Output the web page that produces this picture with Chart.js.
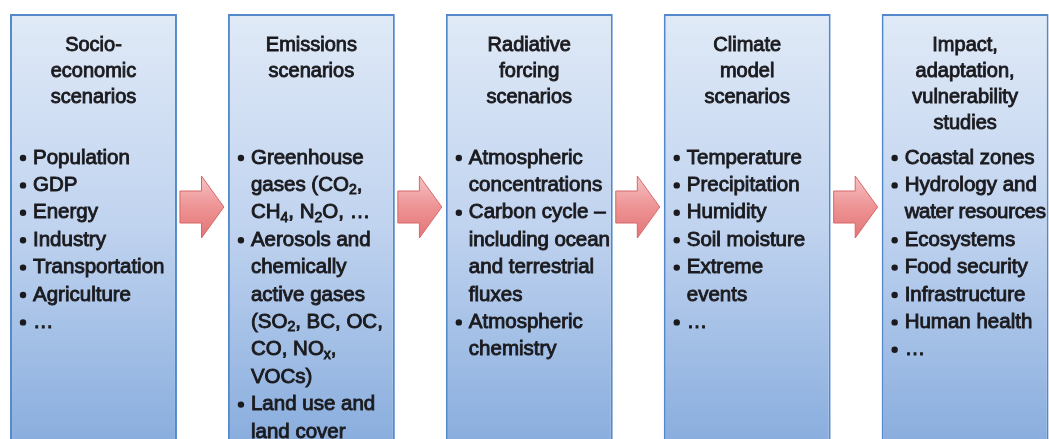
<!DOCTYPE html>
<html>
<head>
<meta charset="utf-8">
<script src="https://cdn.jsdelivr.net/npm/chart.js@4/dist/chart.umd.min.js"></script>
<style>
  html, body { margin: 0; padding: 0; background: #ffffff; }
  #wrap { width: 1049px; height: 439px; position: relative; }
</style>
</head>
<body>
<div id="wrap"><canvas id="chart"></canvas></div>
<script>
"use strict";

// stages of the chain, left to right
const stagePos = [0, 1, 2, 3, 4];

const stageTitles = [
  ['Socio-', 'economic', 'scenarios'],
  ['Emissions', 'scenarios'],
  ['Radiative', 'forcing', 'scenarios'],
  ['Climate', 'model', 'scenarios'],
  ['Impact,', 'adaptation,', 'vulnerability', 'studies']
];

// each item is a list of lines; _x marks a subscript character
const stageItems = [
  [['Population'], ['GDP'], ['Energy'], ['Industry'], ['Transportation'], ['Agriculture'], ['…']],
  [['Greenhouse', 'gases (CO_2,', 'CH_4, N_2O, …'],
   ['Aerosols and', 'chemically', 'active gases', '(SO_2, BC, OC,', 'CO, NO_x,', 'VOCs)'],
   ['Land use and', 'land cover']],
  [['Atmospheric', 'concentrations'],
   ['Carbon cycle –', 'including ocean', 'and terrestrial', 'fluxes'],
   ['Atmospheric', 'chemistry']],
  [['Temperature'], ['Precipitation'], ['Humidity'], ['Soil moisture'], ['Extreme', 'events'], ['…']],
  [['Coastal zones'], ['Hydrology and', 'water resources'], ['Ecosystems'], ['Food security'],
   ['Infrastructure'], ['Human health'], ['…']]
];

// box extent on the vertical (row) scale, top of page = 0
const boxTop = [14, 14, 14, 14, 14];
const boxBottom = [470, 470, 470, 470, 470];
const arrowRow = 207;

const titleFirstRow = 45;
const titleStep = 26;
const itemFirstRow = 158;
const itemStep = 27.4;

const textFont = '"Liberation Sans", Arial, sans-serif';
const textColor = '#1b1b1f';

function splitSub(text) {
  let parts = [];
  const re = /_(\w)/g;
  let last = 0;
  let m;
  while ((m = re.exec(text)) !== null) {
    if (m.index > last) parts.push({ t: text.slice(last, m.index), sub: false });
    parts.push({ t: m[1], sub: true });
    last = re.lastIndex;
  }
  if (last < text.length) parts.push({ t: text.slice(last), sub: false });
  return parts;
}

// draws one body line, fitting it inside maxWidth by tightening the tracking
function drawText(ctx, text, x, y, maxWidth) {
  const parts = splitSub(text);
  let total = 0, chars = 0;
  for (const p of parts) {
    ctx.font = (p.sub ? '14px ' : '20.5px ') + textFont;
    total += ctx.measureText(p.t).width;
    chars += p.t.length;
  }
  let spacing = 0;
  if (total > maxWidth) spacing = Math.max(-1.2, (maxWidth - total) / chars);
  ctx.letterSpacing = spacing + 'px';
  let cx = x;
  for (const p of parts) {
    ctx.font = (p.sub ? '14px ' : '20.5px ') + textFont;
    const yy = p.sub ? y + 5 : y;
    ctx.fillText(p.t, cx, yy);
    ctx.strokeText(p.t, cx, yy);
    cx += ctx.measureText(p.t).width;
  }
  ctx.letterSpacing = '0px';
}

const boxGradient = function(context) {
  const chart = context.chart;
  const area = chart.chartArea;
  if (!area) return '#c3d6f0';
  const y = chart.scales.y;
  const g = chart.ctx.createLinearGradient(0, y.getPixelForValue(boxTop[0]), 0, area.bottom);
  g.addColorStop(0, '#e0eaf7');
  g.addColorStop(0.5, '#c0d3ef');
  g.addColorStop(1, '#8aaede');
  return g;
};

const arrowsPlugin = {
  id: 'arrows',
  afterDatasetsDraw(chart) {
    const ctx = chart.ctx;
    const bars = chart.getDatasetMeta(0).data;
    const yc = chart.scales.y.getPixelForValue(arrowRow);
    ctx.save();
    for (let i = 0; i < bars.length - 1; i++) {
      const a = bars[i], b = bars[i + 1];
      const x0 = a.x + a.width / 2 + 3;
      const x2 = b.x - b.width / 2 - 4;
      const x1 = x0 + (x2 - x0) * 0.49;
      const g = ctx.createLinearGradient(0, yc - 31, 0, yc + 31);
      g.addColorStop(0, '#f6c2c3');
      g.addColorStop(0.5, '#ee9394');
      g.addColorStop(1, '#e27576');
      ctx.beginPath();
      ctx.moveTo(x0, yc - 16);
      ctx.lineTo(x1, yc - 16);
      ctx.lineTo(x1, yc - 31);
      ctx.lineTo(x2, yc);
      ctx.lineTo(x1, yc + 31);
      ctx.lineTo(x1, yc + 16);
      ctx.lineTo(x0, yc + 16);
      ctx.closePath();
      ctx.fillStyle = g;
      ctx.fill();
      ctx.strokeStyle = '#d8676a';
      ctx.lineWidth = 1;
      ctx.stroke();
    }
    ctx.restore();
  }
};

const labelsPlugin = {
  id: 'boxLabels',
  afterDatasetsDraw(chart) {
    const ctx = chart.ctx;
    const bars = chart.getDatasetMeta(0).data;
    const y = chart.scales.y;
    ctx.save();
    ctx.fillStyle = textColor;
    ctx.strokeStyle = textColor;
    ctx.lineWidth = 0.9;
    ctx.textBaseline = 'middle';
    bars.forEach(function(bar, i) {
      const left = bar.x - bar.width / 2;
      ctx.textAlign = 'center';
      ctx.font = '20px ' + textFont;
      stageTitles[i].forEach(function(line, k) {
        const yy = y.getPixelForValue(titleFirstRow + k * titleStep);
        ctx.fillText(line, bar.x, yy);
        ctx.strokeText(line, bar.x, yy);
      });
      ctx.textAlign = 'left';
      let row = 0;
      for (const item of stageItems[i]) {
        const yb = y.getPixelForValue(itemFirstRow + row * itemStep);
        ctx.beginPath();
        ctx.arc(left + 13, yb, 3.2, 0, Math.PI * 2);
        ctx.fill();
        for (const line of item) {
          drawText(ctx, line, left + 23, y.getPixelForValue(itemFirstRow + row * itemStep), bar.width - 26);
          row++;
        }
      }
    });
    ctx.restore();
  }
};

const config = {
  type: 'bar',
  data: {
    datasets: [{
      data: stagePos.map((p, i) => ({ x: p, y: [boxBottom[i], boxTop[i]] })),
      backgroundColor: boxGradient,
      borderColor: '#5389cb',
      borderWidth: 2,
      borderSkipped: false,
      barPercentage: 0.766,
      categoryPercentage: 1
    }]
  },
  options: {
    responsive: true,
    maintainAspectRatio: false,
    animation: false,
    layout: { padding: 0 },
    plugins: { legend: { display: false }, tooltip: { enabled: false } },
    scales: {
      x: {
        type: 'linear', min: -0.429, max: 4.385, display: false, offset: false,
        afterBuildTicks: function(axis) {
          axis.ticks = stagePos.map(v => ({ value: v }));
        }
      },
      y: { min: 0, max: 439, reverse: true, display: false }
    }
  },
  plugins: [arrowsPlugin, labelsPlugin]
};

new Chart(document.getElementById('chart').getContext('2d'), config);
</script>
</body>
</html>
